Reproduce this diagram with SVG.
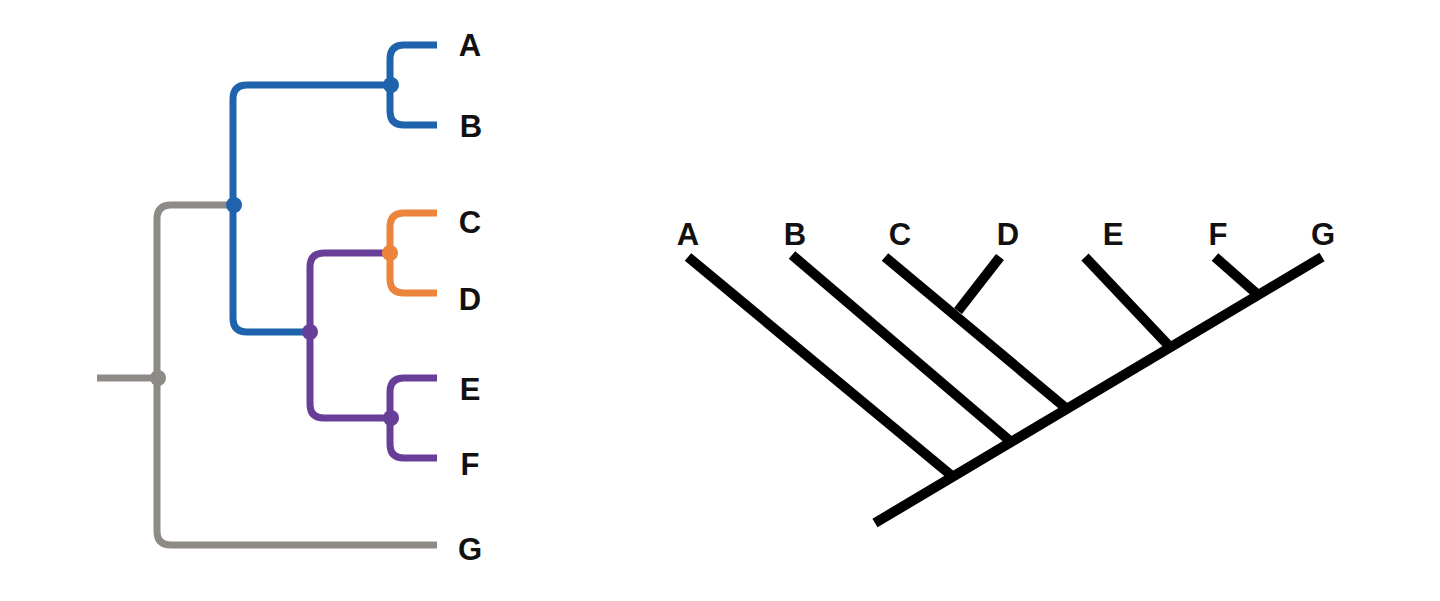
<svg xmlns="http://www.w3.org/2000/svg" width="1440" height="601" viewBox="0 0 1440 601">
<style>
.lbl{font-family:"Liberation Sans",Arial,sans-serif;font-weight:bold;font-size:31px;fill:#111;text-anchor:middle}
.br{fill:none;stroke-width:7;stroke-linecap:butt;stroke-linejoin:round}
.gray{stroke:#8e8b86}.blue{stroke:#1f63ad}.orange{stroke:#ec843c}.purple{stroke:#683f98}
.dg{fill:#8e8b86}.db{fill:#1f63ad}.do{fill:#ec843c}.dp{fill:#683f98}
.bk{stroke:#000;stroke-width:10;stroke-linecap:butt;fill:none}
</style>
<rect width="1440" height="601" fill="#fff"/>
<g id="left-connectors">
<path class="br gray" d="M97,378 H157"/>
<path class="br gray" d="M233,205 H171 Q157,205 157,219 V531 Q157,545 171,545 H437"/>
<path class="br blue" d="M390,85 H247 Q233,85 233,99 V318 Q233,332 247,332 H310"/>
<path class="br blue" d="M437,45 H404 Q390,45 390,59 V111 Q390,125 404,125 H437"/>
<path class="br purple" d="M390,253 H324 Q310,253 310,267 V404 Q310,418 324,418 H390"/>
<path class="br orange" d="M437,213 H404 Q390,213 390,227 V279 Q390,293 404,293 H437"/>
<path class="br purple" d="M437,378 H404 Q390,378 390,392 V444 Q390,458 404,458 H437"/>
</g>
<g id="left-nodes">
<circle class="dg" cx="158" cy="378" r="8"/>
<circle class="db" cx="234" cy="205" r="8"/>
<circle class="db" cx="391" cy="85" r="8"/>
<circle class="dp" cx="310" cy="332" r="8"/>
<circle class="do" cx="390" cy="253" r="8"/>
<circle class="dp" cx="391" cy="418" r="8"/>
</g>
<g id="left-labels">
<text id="lA" class="lbl" x="470" y="56">A</text>
<text id="lB" class="lbl" x="471" y="137">B</text>
<text id="lC" class="lbl" x="470" y="233">C</text>
<text id="lD" class="lbl" x="470" y="310">D</text>
<text id="lE" class="lbl" x="470" y="400">E</text>
<text id="lF" class="lbl" x="470" y="475">F</text>
<text id="lG" class="lbl" x="470" y="560">G</text>
</g>
<g id="right-connectors">
<path class="bk" d="M875,523 L1322,257"/>
<path class="bk" d="M688,257 L952,476"/>
<path class="bk" d="M792,255 L1010,441"/>
<path class="bk" d="M885,257 L1067,409"/>
<path class="bk" d="M1000,257 L958,311"/>
<path class="bk" d="M1085,257 L1170,347"/>
<path class="bk" d="M1215,257 L1257,294"/>
</g>
<g id="right-labels">
<text id="rA" class="lbl" x="688" y="245">A</text>
<text id="rB" class="lbl" x="795" y="245">B</text>
<text id="rC" class="lbl" x="900" y="245">C</text>
<text id="rD" class="lbl" x="1008" y="245">D</text>
<text id="rE" class="lbl" x="1113" y="245">E</text>
<text id="rF" class="lbl" x="1218" y="245">F</text>
<text id="rG" class="lbl" x="1323" y="245">G</text>
</g>
</svg>
